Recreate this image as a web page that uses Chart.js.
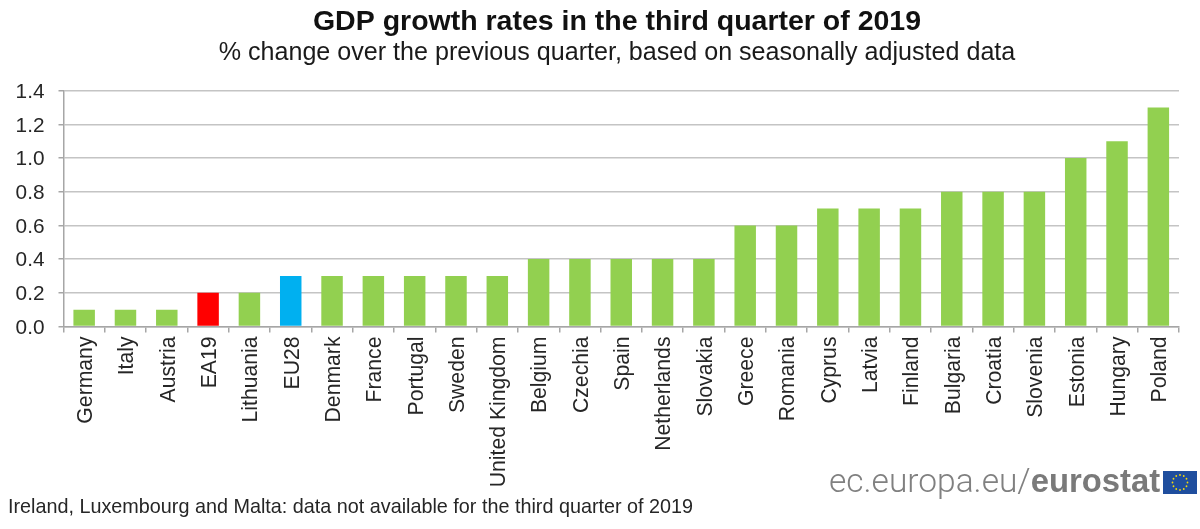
<!DOCTYPE html>
<html>
<head>
<meta charset="utf-8">
<style>
html,body{margin:0;padding:0;background:#fff;overflow:hidden}
#wrap{position:relative;width:1200px;height:529px;font-family:"Liberation Sans",Arial,sans-serif}
#c{position:absolute;left:0;top:0}
#note{position:absolute;left:8px;top:495px;font-size:19.8px;line-height:22px;color:#262626;white-space:nowrap}
#logo{position:absolute;left:829px;top:462px;font-family:Roboto,"Liberation Sans",sans-serif;font-weight:300;font-size:33.5px;line-height:38px;color:#808080;white-space:nowrap}
#logo b{font-family:"Liberation Sans",sans-serif;font-size:32.8px;font-weight:700;color:#7a7a7a}
#flag{position:absolute;left:1163px;top:471px}
</style>
</head>
<body>
<div id="wrap">
<canvas id="c" width="1200" height="529"></canvas>
<div id="note">Ireland, Luxembourg and Malta: data not available for the third quarter of 2019</div>
<div id="logo">ec.europa.eu/<b>eurostat</b></div>
<svg id="flag" width="34" height="23" viewBox="0 0 34 23"><rect width="34" height="23" fill="#1f4e9e"/><g id="stars" fill="#f5d90a"></g></svg>
</div>
<script src="https://cdn.jsdelivr.net/npm/chart.js@4/dist/chart.umd.min.js"></script>
<script>
const categories = ["Germany","Italy","Austria","EA19","Lithuania","EU28","Denmark","France","Portugal","Sweden","United Kingdom","Belgium","Czechia","Spain","Netherlands","Slovakia","Greece","Romania","Cyprus","Latvia","Finland","Bulgaria","Croatia","Slovenia","Estonia","Hungary","Poland"];
const growth = [0.1,0.1,0.1,0.2,0.2,0.3,0.3,0.3,0.3,0.3,0.3,0.4,0.4,0.4,0.4,0.4,0.6,0.6,0.7,0.7,0.7,0.8,0.8,0.8,1.0,1.1,1.3];
const titleText = "GDP growth rates in the third quarter of 2019";
const subtitleText = "% change over the previous quarter, based on seasonally adjusted data";

const stars = document.getElementById('stars');
for (let i = 0; i < 12; i++) {
  const a = i * Math.PI / 6;
  const s = document.createElementNS('http://www.w3.org/2000/svg','circle');
  s.setAttribute('cx', 17 + 7.5 * Math.cos(a));
  s.setAttribute('cy', 11.5 + 7.5 * Math.sin(a));
  s.setAttribute('r', 0.9);
  stars.appendChild(s);
}

const barColor = name => name === 'EA19' ? '#ff0000' : name === 'EU28' ? '#00b0f0' : '#92d050';
const font = 'Liberation Sans';

// The reference centres its headings at x=617, not on the page or the plot.
const shiftHeadings = {
  id: 'shiftHeadings',
  afterLayout(chart) {
    chart.boxes.filter(b => !b.axis && b.position === 'top').forEach(b => {
      b.left += 20; b.right += 20;
    });
  }
};

new Chart(document.getElementById('c'), {
  type: 'bar',
  plugins: [shiftHeadings],
  data: {
    labels: categories,
    datasets: [{
      data: growth,
      backgroundColor: categories.map(barColor),
      categoryPercentage: 1,
      barPercentage: 0.52
    }]
  },
  options: {
    responsive: false,
    animation: false,
    devicePixelRatio: 1,
    layout: { padding: { left: 15, right: 21, top: 0, bottom: 0 } },
    plugins: {
      legend: { display: false },
      tooltip: { enabled: false },
      title: {
        display: true, text: titleText, color: '#111111',
        font: { family: font, size: 28.5, weight: 'bold', lineHeight: 1 },
        padding: { top: 8, bottom: 4 }
      },
      subtitle: {
        display: true, text: subtitleText, color: '#1a1a1a',
        font: { family: font, size: 25.1, weight: 'normal', lineHeight: 1 },
        padding: { top: 0, bottom: 25 }
      }
    },
    scales: {
      x: {
        afterFit(s) { s.height = 202.5; },
        grid: { drawOnChartArea: false, drawTicks: true, tickLength: 6, color: '#a6a6a6', lineWidth: 1.5, offset: true },
        border: { color: '#a6a6a6', width: 1.5 },
        ticks: {
          autoSkip: false, minRotation: 90, maxRotation: 90, padding: 4, labelOffset: 2,
          color: '#262626', font: { family: font, size: 21.2 }
        }
      },
      y: {
        min: 0, max: 1.4,
        afterFit(s) { s.width = 48.5; },
        grid: { color: '#c4c4c4', lineWidth: 1.5, tickLength: 5, tickColor: '#a6a6a6' },
        border: { color: '#a6a6a6', width: 1.5 },
        ticks: {
          stepSize: 0.2, padding: 14, labelOffset: 1.5, color: '#262626',
          font: { family: font, size: 20.8 },
          callback: v => Number(v).toFixed(1)
        }
      }
    }
  }
});
</script>
</body>
</html>
